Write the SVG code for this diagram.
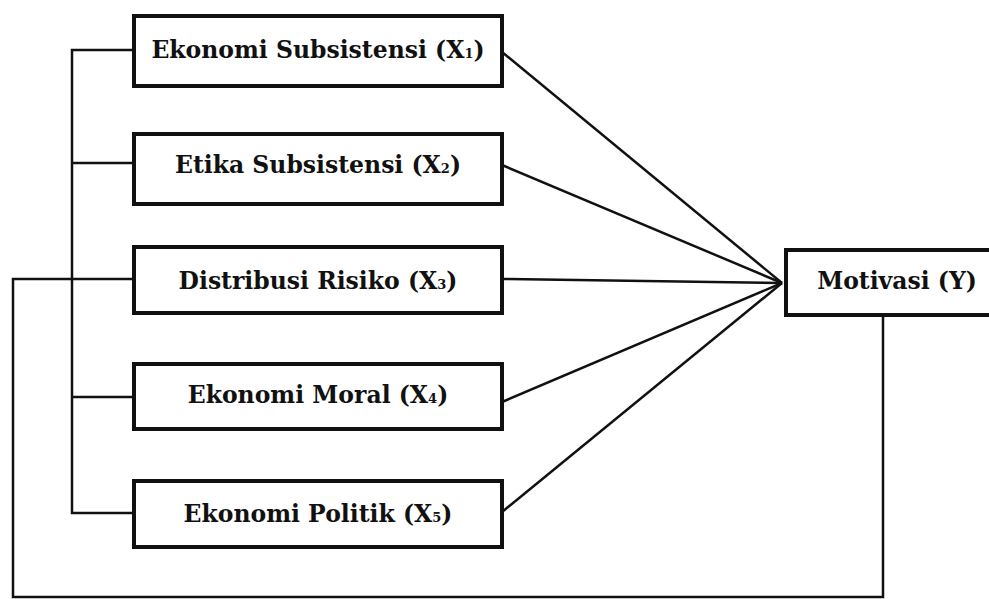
<svg xmlns="http://www.w3.org/2000/svg" width="989" height="599" viewBox="0 0 989 599">
<style>
.box{fill:#fff;stroke:#111;stroke-width:4}
.ln{fill:none;stroke:#111;stroke-width:2.5}
.t{font-family:"DejaVu Serif","Liberation Serif",serif;font-weight:bold;font-size:23.5px;fill:#111;text-anchor:middle}
.s{font-size:13px}
</style>
<rect width="989" height="599" fill="#fff"/>
<g id="connectors">
<polyline class="ln" points="134,50 72,50 72,513 134,513"/>
<line class="ln" x1="72" y1="163" x2="134" y2="163"/>
<line class="ln" x1="72" y1="397" x2="134" y2="397"/>
<polyline class="ln" points="134,279 13,279 13,597 883,597 883,315"/>
<line class="ln" x1="502" y1="52" x2="782" y2="283"/>
<line class="ln" x1="502" y1="165" x2="782" y2="283"/>
<line class="ln" x1="502" y1="279" x2="782" y2="283"/>
<line class="ln" x1="502" y1="402" x2="782" y2="283"/>
<line class="ln" x1="502" y1="512" x2="782" y2="283"/>
</g>
<g id="x1"><rect class="box" x="134" y="16" width="368" height="70"/><text class="t" x="318" y="58">Ekonomi Subsistensi (X<tspan class="s">1</tspan>)</text></g>
<g id="x2"><rect class="box" x="134" y="134" width="368" height="70"/><text class="t" x="318" y="173">Etika Subsistensi (X<tspan class="s">2</tspan>)</text></g>
<g id="x3"><rect class="box" x="134" y="247" width="368" height="66"/><text class="t" x="318" y="289">Distribusi Risiko (X<tspan class="s">3</tspan>)</text></g>
<g id="x4"><rect class="box" x="134" y="364" width="368" height="65"/><text class="t" x="318" y="403">Ekonomi Moral (X<tspan class="s">4</tspan>)</text></g>
<g id="x5"><rect class="box" x="134" y="481" width="368" height="66"/><text class="t" x="318" y="522">Ekonomi Politik (X<tspan class="s">5</tspan>)</text></g>
<g id="y"><rect class="box" x="786" y="250" width="210" height="65"/><text class="t" x="897" y="289">Motivasi (Y)</text></g>
</svg>
